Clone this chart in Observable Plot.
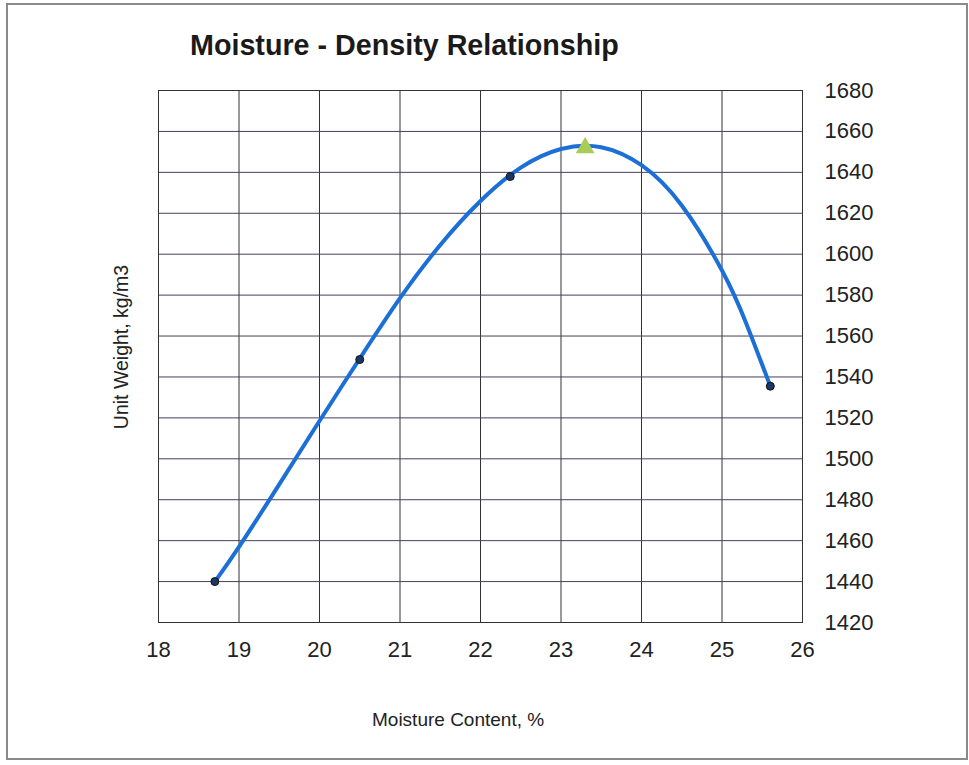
<!DOCTYPE html>
<html><head><meta charset="utf-8">
<script src="https://cdn.jsdelivr.net/npm/d3@7"></script>
<script src="https://cdn.jsdelivr.net/npm/@observablehq/plot@0.6"></script>
<style>
body{margin:0;background:#fff;font-family:"Liberation Sans",Arial,sans-serif;}
#wrap{position:relative;width:969px;height:765px;overflow:hidden;}
#border{position:absolute;left:6px;top:3px;width:958px;height:753px;border:2px solid #8a8a8a;}
#title{position:absolute;left:190px;top:29px;font-size:28.7px;line-height:32px;font-weight:bold;color:#1a1a1a;white-space:nowrap;}
#xlab{position:absolute;left:372px;top:709px;font-size:19px;line-height:22px;color:#222;white-space:nowrap;}
#ylab{position:absolute;left:121px;top:347px;font-size:19.5px;line-height:22px;color:#222;transform:translate(-50%,-50%) rotate(-90deg);white-space:nowrap;}
#chart{position:absolute;left:0;top:0;}
</style></head><body>
<div id="wrap">
<div id="border"></div>
<div id="title">Moisture - Density Relationship</div>
<div id="xlab">Moisture Content, %</div>
<div id="ylab">Unit Weight, kg/m3</div>
<div id="chart"></div>
</div>
<script>
// test points
const moisture = [18.7, 20.5, 22.37, 25.6];
const density = [1440, 1548.5, 1638, 1535.5];
// maximum dry density point
const optMoisture = [23.3];
const optDensity = [1652];
// fitted curve
const curveMoisture = [18.7, 19.0, 19.5, 20.0, 20.5, 21.0, 21.5, 22.0, 22.5, 23.0, 23.5, 24.0, 24.5, 25.0, 25.3, 25.6];
const curveDensity = [1440, 1457, 1487.5, 1518.5, 1549, 1578.5, 1604.5, 1626, 1642.3, 1651.4, 1652.3, 1643.5, 1623.8, 1592, 1566.3, 1535.5];
const xTicks = [18, 19, 20, 21, 22, 23, 24, 25, 26];
const yTicks = [1420, 1440, 1460, 1480, 1500, 1520, 1540, 1560, 1580, 1600, 1620, 1640, 1660, 1680];

const pts = moisture.map((m, i) => ({x: m, y: density[i]}));
const opt = optMoisture.map((m, i) => ({x: m, y: optDensity[i]}));
const curve = curveMoisture.map((m, i) => ({x: m, y: curveDensity[i]}));

const chart = Plot.plot({
  width: 969, height: 765,
  marginLeft: 158, marginRight: 167, marginTop: 90, marginBottom: 143,
  style: {fontSize: "22px", fontFamily: "'Liberation Sans', Arial, sans-serif", color: "#222", background: "transparent"},
  x: {domain: [18, 26]},
  y: {domain: [1420, 1680]},
  marks: [
    Plot.gridX(xTicks, {stroke: "#333", strokeOpacity: 1, strokeWidth: 1}),
    Plot.gridY(yTicks, {stroke: "#4a3f5a", strokeOpacity: 1, strokeWidth: 1}),
    Plot.frame({stroke: "#333"}),
    Plot.axisX(xTicks, {tickSize: 0, tickPadding: 19, label: null, tickFormat: d => String(d)}),
    Plot.axisY(yTicks, {anchor: "right", tickSize: 0, tickPadding: 22, label: null, tickFormat: d => String(d), textAnchor: "start"}),
    Plot.line(curve, {x: "x", y: "y", curve: "natural", stroke: "#1c6fd6", strokeWidth: 4}),
    Plot.dot(pts, {x: "x", y: "y", r: 4, fill: "#1a3766", stroke: "#111", strokeWidth: 1}),
    Plot.dot(opt, {x: "x", y: "y", symbol: "triangle", r: 7, fill: "#a8cc55", stroke: "none"})
  ]
});
document.getElementById("chart").appendChild(chart);
</script>
</body></html>
